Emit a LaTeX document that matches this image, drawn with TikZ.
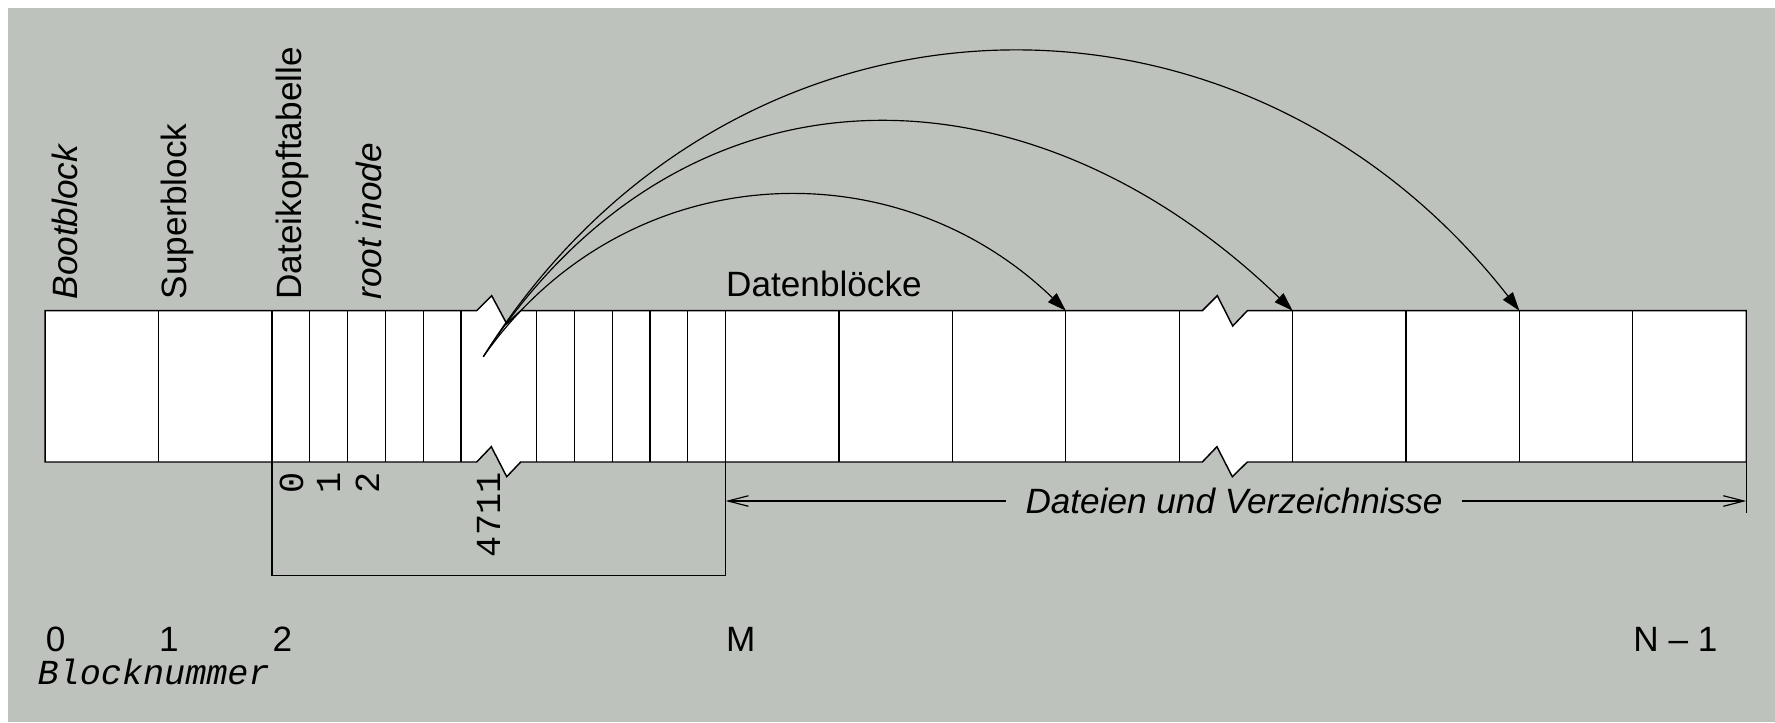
\documentclass[tikz,border=0pt]{standalone}
\usepackage{fontspec}
\setmainfont{Liberation Sans}
\newfontfamily\monofont{Liberation Mono}
\usetikzlibrary{arrows.meta}
\definecolor{bggray}{RGB}{190,194,188}

\begin{document}
\begin{tikzpicture}[x=0.012cm,y=-0.012cm,line width=0.4pt,
  every node/.style={inner sep=0pt,font=\fontsize{12}{14}\selectfont},
  vlbl/.style={rotate=90,anchor=base west},
  num/.style={anchor=base west},
  idx/.style={rotate=90,anchor=base east,font=\fontsize{12}{14}\selectfont\monofont},
  ptr/.style={-{Triangle[length=6.4pt,width=4.2pt]}},
  span/.style={-{Straight Barb[length=7pt,width=3.6pt]}}]
\useasboundingbox (0,0) rectangle (1775,722);
\fill[white] (0,0) rectangle (1775,722);
\fill[bggray] (8,8) rectangle (1775,722);

% the block bar with two breaks
\draw[fill=white,line width=0.5pt] (45.2,310.7) -- (476.7,310.7) -- ++(15,-15) -- ++(15,28) -- ++(14,-13)
  -- (1202.3,310.7) -- ++(15,-15) -- ++(15.4,30.3) -- ++(14.6,-15.3) -- (1746.2,310.7) -- (1746.2,462)
  -- (1247.3,462) -- ++(-15,14.7) -- ++(-15.4,-30) -- ++(-14.6,15.3)
  -- (520.7,462) -- ++(-14,14.7) -- ++(-15.4,-30) -- ++(-14.6,15.3) -- (45.2,462) -- cycle;
\foreach \x in {158.6,272,309.8,347.6,385.4,423.2,461,536.6,574.4,612.2,650,687.8,725.6,
                839,952.4,1065.8,1179.2,1292.6,1406,1519.4,1632.8}
  \draw (\x,310.7) -- (\x,462);

% labels above
\node[vlbl] (boot) at (77,300) {\itshape Bootblock};
\node[vlbl] (super) at (186,300) {Superblock};
\node[vlbl] (dkt) at (301,300) {Dateikopftabelle};
\node[vlbl] (rooti) at (381,300) {\itshape root inode};
\node[num] (daten) at (725.6,296) {Datenblöcke};

% pointers from inode 4711
\coordinate (src) at (483.3,356.7);
\coordinate (d1) at (1065.8,310.7);
\coordinate (d2) at (1292.6,310.7);
\coordinate (d3) at (1519.4,310.7);
\draw[ptr] (src) to[out=55,in=136,looseness=1.06] (d1);
\draw[ptr] (src) to[out=57,in=136,looseness=1.16] (d2);
\draw[ptr] (src) to[out=58,in=128,looseness=1.13] (d3);

% inode numbers
\node[idx] (i0) at (303,472) {0};
\node[idx] (i1) at (340,472) {1};
\node[idx] (i2) at (379,472) {2};
\node[idx] (i4711) at (500,472) {4711};
\draw (272,462) -- (272,575.3) -- (725.6,575.3) -- (725.6,462);

% data area
\draw (1746.2,462) -- (1746.2,513);
\coordinate (lft) at (725.6,501);
\coordinate (rgt) at (1746.2,501);
\node[inner xsep=6.5pt] (dv) at (1234,501) {\itshape Dateien und Verzeichnisse};
\draw[span] (dv.west) -- (lft);
\draw[span] (dv.east) -- (rgt);

% block numbers
\node[num] (n0) at (45.2,651) {0};
\node[num] (n1) at (158.6,651) {1};
\node[num] (n2) at (272,651) {2};
\node[num] (nm) at (725.6,651) {M};
\node[num] (nn) at (1632.8,651) {N – 1};
\node[num] (bnr) at (37,684) {\monofont\itshape Blocknummer};
\end{tikzpicture}
\end{document}
